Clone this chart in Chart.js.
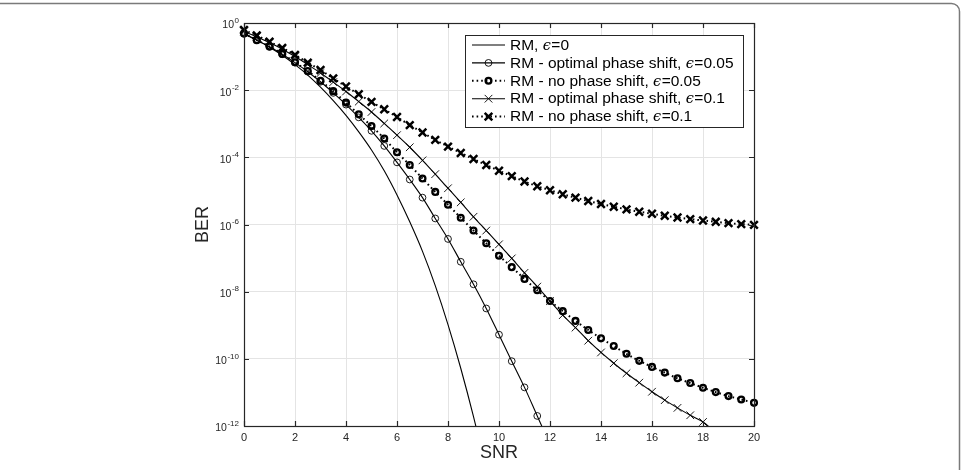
<!DOCTYPE html>
<html>
<head>
<meta charset="utf-8">
<script src="https://cdn.jsdelivr.net/npm/chart.js@4.4.1/dist/chart.umd.min.js"></script>
<style>
html,body{margin:0;padding:0;background:#fff;}
canvas{display:block;}
</style>
</head>
<body>
<canvas id="c" width="964" height="470"></canvas>
<script>
// ---------- data ----------
const snr = [0,0.5,1,1.5,2,2.5,3,3.5,4,4.5,5,5.5,6,6.5,7,7.5,8,8.5,9,9.5,10,10.5,11,11.5,12,12.5,13,13.5,14,14.5,15,15.5,16,16.5,17,17.5,18,18.5,19,19.5,20];
const xTicks = [0,2,4,6,8,10,12,14,16,18,20];
const yTickExponents = [0,-2,-4,-6,-8,-10,-12];
const seriesNames = [
  'RM, ϵ=0',
  'RM - optimal phase shift, ϵ=0.05',
  'RM - no phase shift, ϵ=0.05',
  'RM - optimal phase shift, ϵ=0.1',
  'RM - no phase shift, ϵ=0.1'
];
// log10(BER) values, one per SNR step starting at SNR = 0
const log10BerEps0 = [-0.33,-0.51,-0.72,-0.96,-1.24,-1.55,-1.91,-2.31,-2.75,-3.24,-3.78,-4.40,-5.12,-5.92,-6.80,-7.82,-8.98,-10.28,-11.72,-13.3];
const log10BerOpt005 = [-0.32,-0.51,-0.71,-0.93,-1.18,-1.45,-1.75,-2.08,-2.43,-2.81,-3.21,-3.66,-4.15,-4.66,-5.20,-5.82,-6.43,-7.11,-7.78,-8.50,-9.28,-10.07,-10.85,-11.70,-12.55];
const log10BerNo005 = [-0.31,-0.51,-0.70,-0.92,-1.17,-1.43,-1.72,-2.03,-2.37,-2.72,-3.07,-3.44,-3.85,-4.23,-4.63,-5.03,-5.41,-5.80,-6.18,-6.56,-6.93,-7.27,-7.62,-7.96,-8.28,-8.58,-8.87,-9.14,-9.39,-9.62,-9.85,-10.06,-10.24,-10.41,-10.58,-10.72,-10.86,-10.99,-11.11,-11.21,-11.31];
const log10BerOpt01 = [-0.25,-0.41,-0.59,-0.78,-1.00,-1.24,-1.49,-1.76,-2.04,-2.34,-2.65,-2.99,-3.34,-3.70,-4.09,-4.50,-4.92,-5.34,-5.77,-6.18,-6.59,-7.01,-7.44,-7.85,-8.28,-8.70,-9.07,-9.46,-9.81,-10.13,-10.43,-10.71,-10.98,-11.23,-11.46,-11.68,-11.88,-12.2];
const log10BerNo01 = [-0.21,-0.37,-0.56,-0.74,-0.95,-1.18,-1.40,-1.65,-1.89,-2.12,-2.35,-2.57,-2.80,-3.04,-3.26,-3.48,-3.68,-3.87,-4.05,-4.23,-4.40,-4.56,-4.72,-4.86,-4.98,-5.10,-5.20,-5.30,-5.39,-5.47,-5.55,-5.62,-5.68,-5.74,-5.79,-5.84,-5.88,-5.92,-5.96,-5.99,-6.01];

// ---------- build ----------
const toPts = arr => arr.map((v,i) => ({x: snr[i], y: Math.pow(10, v)}));
const FONT = "'Liberation Sans', Arial, Helvetica, sans-serif";
const TXT = '#262626';
Chart.defaults.font.family = FONT;

const clip = {left: 8, right: 8, top: 8, bottom: 0};
const base = {borderColor:'#000', backgroundColor:'rgba(0,0,0,0)', pointBackgroundColor:'rgba(0,0,0,0)', pointBorderColor:'#000', cubicInterpolationMode:'monotone', clip};

const datasets = [
  Object.assign({}, base, {label: seriesNames[0], data: toPts(log10BerEps0), borderWidth: 1.1, pointRadius: 0}),
  Object.assign({}, base, {label: seriesNames[1], data: toPts(log10BerOpt005), borderWidth: 1.1, pointStyle:'circle', pointRadius: 3.4, pointBorderWidth: 0.9}),
  Object.assign({}, base, {label: seriesNames[2], data: toPts(log10BerNo005), borderWidth: 2, borderDash:[1.6,3], pointStyle:'circle', pointRadius: 2.9, pointBorderWidth: 2.3}),
  Object.assign({}, base, {label: seriesNames[3], data: toPts(log10BerOpt01), borderWidth: 1.1, pointStyle:'crossRot', pointRadius: 5.4, pointBorderWidth: 0.9}),
  Object.assign({}, base, {label: seriesNames[4], data: toPts(log10BerNo01), borderWidth: 2, borderDash:[1.6,3], pointStyle:'crossRot', pointRadius: 5.4, pointBorderWidth: 2.5})
];

const LEGEND_FONT = 15.5;
const overlay = {
  id: 'overlay',
  afterDraw(chart) {
    const {ctx, chartArea: a, scales: {x, y}} = chart;
    ctx.save();
    // axes box
    ctx.strokeStyle = TXT; ctx.lineWidth = 1.2; ctx.setLineDash([]);
    ctx.strokeRect(a.left + 0.5, a.top + 0.5, a.right - a.left, a.bottom - a.top);
    // inward ticks
    ctx.beginPath();
    xTicks.forEach(v => {
      const px = Math.round(x.getPixelForValue(v)) + 0.5;
      ctx.moveTo(px, a.bottom); ctx.lineTo(px, a.bottom - 5);
      ctx.moveTo(px, a.top); ctx.lineTo(px, a.top + 5);
    });
    yTickExponents.forEach(e => {
      const py = Math.round(y.getPixelForValue(Math.pow(10, e))) + 0.5;
      ctx.moveTo(a.left, py); ctx.lineTo(a.left + 5, py);
      ctx.moveTo(a.right, py); ctx.lineTo(a.right - 5, py);
    });
    ctx.stroke();
    // y tick labels with superscript exponents
    ctx.fillStyle = TXT; ctx.textBaseline = 'middle'; ctx.textAlign = 'left';
    yTickExponents.forEach(e => {
      const py = y.getPixelForValue(Math.pow(10, e));
      const exp = String(e);
      ctx.font = "8px " + FONT; const we = ctx.measureText(exp).width;
      ctx.font = "10.5px " + FONT; const wb = ctx.measureText('10').width;
      const xr = a.left - 5;
      ctx.fillText('10', xr - we - wb - 0.5, py + 2.5);
      ctx.font = "8px " + FONT;
      ctx.fillText(exp, xr - we, py - 2.5);
    });
    // legend
    const L = {x: 465, y: 35, w: 278, h: 92};
    ctx.fillStyle = '#fff';
    ctx.fillRect(L.x, L.y, L.w, L.h);
    ctx.strokeStyle = TXT; ctx.lineWidth = 1;
    ctx.strokeRect(L.x + 0.5, L.y + 0.5, L.w, L.h);
    chart.data.datasets.forEach((ds, i) => {
      const yy = 45 + i * 17.9;
      ctx.strokeStyle = '#000';
      ctx.lineWidth = ds.borderWidth;
      ctx.setLineDash(ds.borderDash || []);
      ctx.beginPath(); ctx.moveTo(472, yy); ctx.lineTo(505, yy); ctx.stroke();
      ctx.setLineDash([]);
      if (ds.pointRadius > 0) {
        ctx.lineWidth = ds.pointBorderWidth;
        ctx.fillStyle = 'rgba(0,0,0,0)';
        Chart.helpers.drawPoint(ctx, {pointStyle: ds.pointStyle, radius: ds.pointRadius, borderWidth: ds.pointBorderWidth, rotation: 0}, 488.5, yy);
      }
      // text
      ctx.fillStyle = '#000'; ctx.textBaseline = 'middle'; ctx.textAlign = 'left';
      const parts = ds.label.split('ϵ');
      let tx = 510;
      ctx.font = LEGEND_FONT + "px " + FONT;
      ctx.fillText(parts[0], tx, yy + 0.5); tx += ctx.measureText(parts[0]).width;
      if (parts.length > 1) {
        ctx.font = "italic " + (LEGEND_FONT - 1) + "px 'DejaVu Serif', serif";
        ctx.fillText('ϵ', tx, yy + 1); tx += ctx.measureText('ϵ').width + 0.5;
        ctx.font = LEGEND_FONT + "px " + FONT;
        ctx.fillText(parts[1], tx, yy + 0.5);
      }
    });
    // outer frame (top and right edges, rounded corner)
    ctx.strokeStyle = '#7a7a7a'; ctx.lineWidth = 1.5;
    ctx.beginPath();
    ctx.moveTo(-2, 3.5); ctx.lineTo(951, 3.5);
    ctx.arcTo(959.5, 3.5, 959.5, 12, 8);
    ctx.lineTo(959.5, 472);
    ctx.stroke();
    ctx.restore();
  }
};

new Chart(document.getElementById('c'), {
  type: 'line',
  data: {datasets},
  options: {
    responsive: false,
    animation: false,
    devicePixelRatio: 1,
    layout: {padding: {left: 184, right: 210, top: 23, bottom: 0}},
    plugins: {legend: {display: false}, tooltip: {enabled: false}},
    elements: {line: {fill: false}},
    scales: {
      x: {
        type: 'linear', min: 0, max: 20,
        afterBuildTicks: s => { s.ticks = xTicks.map(v => ({value: v})); },
        afterFit: s => { s.height = 44; },
        grid: {color: '#e4e4e4', lineWidth: 1, drawTicks: false},
        border: {display: false},
        ticks: {color: TXT, font: {size: 11}, padding: 5, maxRotation: 0, autoSkip: false},
        title: {display: true, text: 'SNR', color: TXT, font: {size: 18}, padding: {top: 0, bottom: 6}}
      },
      y: {
        type: 'logarithmic', min: 1e-12, max: 1,
        afterBuildTicks: s => { s.ticks = yTickExponents.map(e => ({value: Math.pow(10, e)})); },
        afterFit: s => { s.width = 60; },
        grid: {color: '#e4e4e4', lineWidth: 1, drawTicks: false},
        border: {display: false},
        ticks: {display: false},
        title: {display: true, text: 'BER', color: TXT, font: {size: 18}, padding: {top: 8, bottom: 0}}
      }
    }
  },
  plugins: [overlay]
});
</script>
</body>
</html>
